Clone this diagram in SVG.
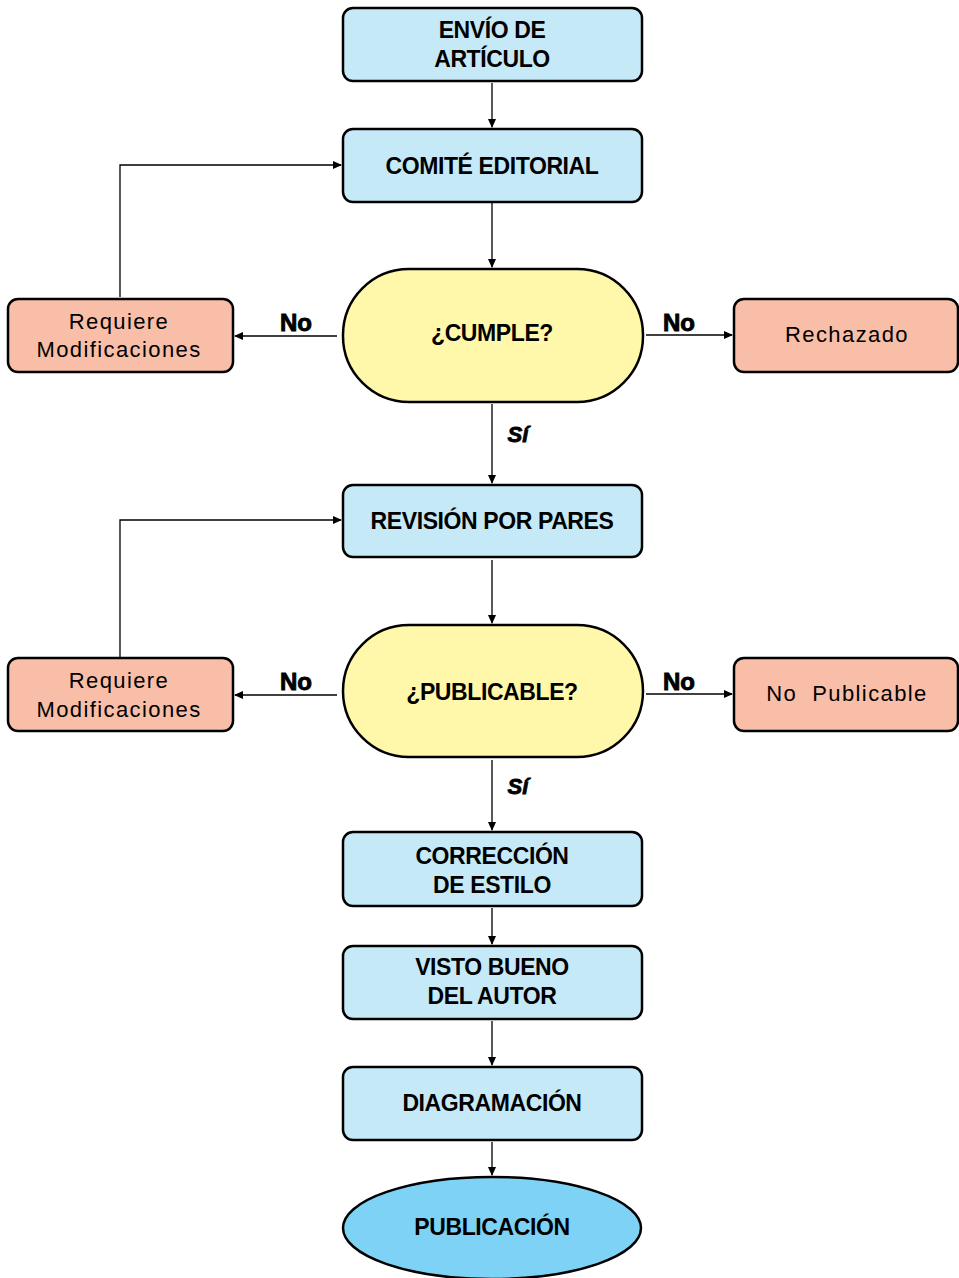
<svg xmlns="http://www.w3.org/2000/svg" width="959" height="1278" viewBox="0 0 959 1278">
<style>
.box{fill:#c6e9f8;stroke:#000;stroke-width:2.5}
.dec{fill:#fff7aa;stroke:#000;stroke-width:2.5}
.alt{fill:#f9bea7;stroke:#000;stroke-width:2.5}
.end{fill:#7dd2f5;stroke:#000;stroke-width:2.5}
.t{font-family:"Liberation Sans",Arial,sans-serif;font-weight:bold;font-size:23px;text-anchor:middle;fill:#000;letter-spacing:-0.4px}
.n{font-family:"Liberation Sans",Arial,sans-serif;font-size:22px;text-anchor:middle;fill:#000;letter-spacing:1.4px}
.lb{font-family:"Liberation Sans",Arial,sans-serif;font-weight:bold;font-size:24px;text-anchor:middle;fill:#000;stroke:#000;stroke-width:0.9}
.si{font-family:"Liberation Sans",Arial,sans-serif;font-weight:bold;font-style:italic;font-size:22px;text-anchor:middle;fill:#000;stroke:#000;stroke-width:0.8}
.c{fill:none;stroke:#000;stroke-width:1.3;marker-end:url(#ah)}
</style>
<defs>
<marker id="ah" markerWidth="9" markerHeight="8" refX="8" refY="4" orient="auto" markerUnits="userSpaceOnUse">
<path d="M0,0 L9,4 L0,8 Z" fill="#000"/>
</marker>
</defs>
<g id="connectors">
<path class="c" d="M492,83 V127"/>
<path class="c" d="M492,203 V267"/>
<path class="c" d="M492,404 V483"/>
<path class="c" d="M492,560 V623"/>
<path class="c" d="M492,760 V830"/>
<path class="c" d="M492,908 V944"/>
<path class="c" d="M492,1021 V1065"/>
<path class="c" d="M492,1142 V1175"/>
<path class="c" d="M337,336 H235"/>
<path class="c" d="M646,335 H732"/>
<path class="c" d="M337,695 H235"/>
<path class="c" d="M646,694 H732"/>
<path class="c" d="M120,297 V165 H341"/>
<path class="c" d="M120,657 V520 H341"/>
<text class="lb" x="296" y="331">No</text>
<text class="lb" x="679" y="331">No</text>
<text class="si" x="518" y="442">Sí</text>
<text class="lb" x="296" y="690">No</text>
<text class="lb" x="679" y="690">No</text>
<text class="si" x="518" y="794">Sí</text>
</g>
<g id="envio"><rect class="box" x="343" y="8" width="299" height="73" rx="10"/><text class="t" x="492" y="38">ENVÍO DE</text><text class="t" x="492" y="67">ARTÍCULO</text></g>
<g id="comite"><rect class="box" x="343" y="129" width="299" height="73" rx="10"/><text class="t" x="492" y="174">COMITÉ EDITORIAL</text></g>
<g id="cumple"><rect class="dec" x="343" y="269" width="300" height="133" rx="66"/><text class="t" x="492" y="341">¿CUMPLE?</text></g>
<g id="reqmod1"><rect class="alt" x="8" y="299" width="225" height="73" rx="10"/><text class="n" x="119" y="329">Requiere</text><text class="n" x="119" y="357">Modificaciones</text></g>
<g id="rechazado"><rect class="alt" x="734" y="299" width="224" height="73" rx="10"/><text class="n" x="847" y="342">Rechazado</text></g>
<g id="revision"><rect class="box" x="343" y="485" width="299" height="72" rx="10"/><text class="t" x="492" y="529">REVISIÓN POR PARES</text></g>
<g id="publicable"><rect class="dec" x="343" y="625" width="300" height="132" rx="66"/><text class="t" x="492" y="700">¿PUBLICABLE?</text></g>
<g id="reqmod2"><rect class="alt" x="8" y="658" width="225" height="73" rx="10"/><text class="n" x="119" y="688">Requiere</text><text class="n" x="119" y="717">Modificaciones</text></g>
<g id="nopublicable"><rect class="alt" x="734" y="658" width="224" height="73" rx="10"/><text class="n" x="847" y="701" xml:space="preserve">No  Publicable</text></g>
<g id="correccion"><rect class="box" x="343" y="832" width="299" height="74" rx="10"/><text class="t" x="492" y="864">CORRECCIÓN</text><text class="t" x="492" y="893">DE ESTILO</text></g>
<g id="visto"><rect class="box" x="343" y="946" width="299" height="73" rx="10"/><text class="t" x="492" y="975">VISTO BUENO</text><text class="t" x="492" y="1004">DEL AUTOR</text></g>
<g id="diagramacion"><rect class="box" x="343" y="1067" width="299" height="73" rx="10"/><text class="t" x="492" y="1111">DIAGRAMACIÓN</text></g>
<g id="publicacion"><ellipse class="end" cx="492" cy="1228" rx="149" ry="51"/><text class="t" x="492" y="1235">PUBLICACIÓN</text></g>
</svg>
